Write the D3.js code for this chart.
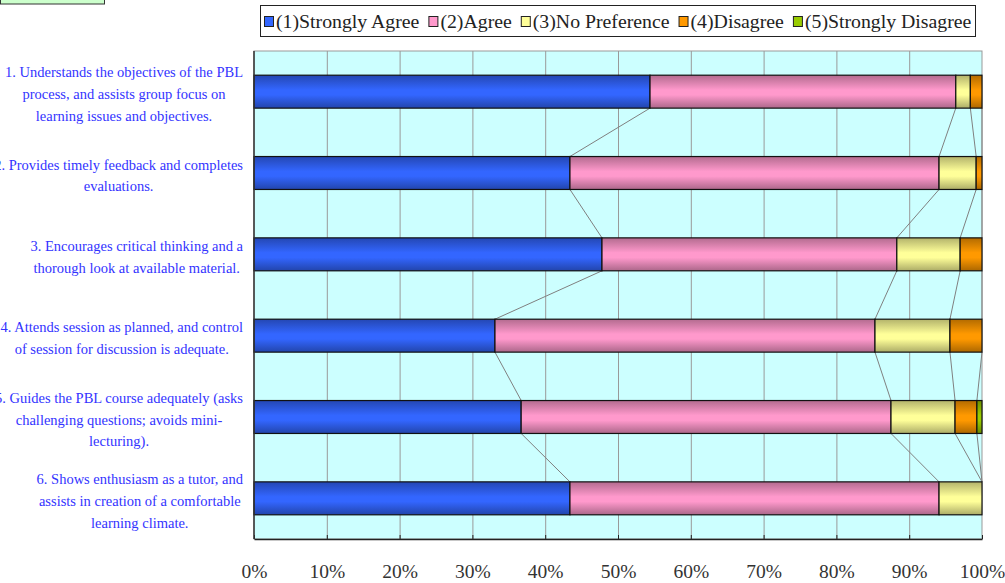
<!DOCTYPE html>
<html>
<head>
<meta charset="utf-8">
<script src="https://cdn.jsdelivr.net/npm/d3@7/dist/d3.min.js"></script>
<style>
  body { margin: 0; background: #fff; }
  svg { display: block; font-family: 'Liberation Serif', 'Times New Roman', serif; }
</style>
</head>
<body>
<div id="chart"></div>
<script>
// Survey items (each entry is the wrapped label lines)
var questions = [
  ['1. Understands the objectives of the PBL', 'process, and assists group focus on', 'learning issues and objectives.'],
  ['2. Provides timely feedback and completes', 'evaluations.'],
  ['3. Encourages critical thinking and a', 'thorough look at available material.'],
  ['4. Attends session as planned, and control', 'of session for discussion is adequate.'],
  ['5. Guides the PBL course adequately (asks', 'challenging questions; avoids mini-', 'lecturing).'],
  ['6. Shows enthusiasm as a tutor, and', 'assists in creation of a comfortable', 'learning climate.']
];
var seriesNames = ['(1)Strongly Agree', '(2)Agree', '(3)No Preference', '(4)Disagree', '(5)Strongly Disagree'];
var stronglyAgree    = [54.4, 43.4, 47.8, 33.1, 36.7, 43.4];
var agree            = [42.0, 50.7, 40.5, 52.2, 50.8, 50.7];
var noPreference     = [2.0, 5.1, 8.7, 10.3, 8.8, 5.9];
var disagree         = [1.6, 0.8, 3.0, 4.4, 3.0, 0.0];
var stronglyDisagree = [0.0, 0.0, 0.0, 0.0, 0.7, 0.0];
var xTicks = [0, 10, 20, 30, 40, 50, 60, 70, 80, 90, 100];

var colors = ['#3366ff', '#ff99cc', '#ffff99', '#ff9900', '#99cc00'];
var width = 1005;
var height = 583;
var plot = {left: 254, top: 51, right: 982, bottom: 539};

var series = [stronglyAgree, agree, noPreference, disagree, stronglyDisagree];

// build rows for d3.stack
var rows = questions.map(function (q, i) {
  var r = {index: i};
  seriesNames.forEach(function (name, s) { r[name] = series[s][i]; });
  return r;
});
var stacked = d3.stack().keys(seriesNames)(rows);

var x = d3.scaleLinear().domain([0, 100]).range([plot.left, plot.right]);
var y = d3.scaleBand()
          .domain(d3.range(questions.length))
          .range([plot.top, plot.bottom])
          .paddingInner(0.595)
          .paddingOuter(0.2975);

var svg = d3.select('#chart')
            .append('svg')
            .attr('width', width)
            .attr('height', height);

// gradients for the cylinder-ish bars
var defs = svg.append('defs');
colors.forEach(function (c, i) {
  var base = d3.rgb(c);
  var g = defs.append('linearGradient')
              .attr('id', 'grad' + i)
              .attr('x1', 0).attr('y1', 0).attr('x2', 0).attr('y2', 1);
  g.append('stop').attr('offset', '0%').attr('stop-color', base.darker(1.0));
  g.append('stop').attr('offset', '45%').attr('stop-color', base);
  g.append('stop').attr('offset', '60%').attr('stop-color', base);
  g.append('stop').attr('offset', '100%').attr('stop-color', base.darker(1.1));
});

// little green box top-left
svg.append('rect')
   .attr('x', 0.5).attr('y', -5)
   .attr('width', 104).attr('height', 9)
   .attr('fill', '#ccffcc')
   .attr('stroke', '#333');

// plot background
svg.append('rect')
   .attr('x', plot.left).attr('y', plot.top)
   .attr('width', plot.right - plot.left)
   .attr('height', plot.bottom - plot.top)
   .attr('fill', '#ccffff')
   .attr('stroke', '#999');

// vertical gridlines
svg.append('g')
   .selectAll('line')
   .data(xTicks.slice(1, -1))
   .enter()
   .append('line')
     .attr('x1', function (d) { return x(d) + 0.5; })
     .attr('x2', function (d) { return x(d) + 0.5; })
     .attr('y1', plot.top)
     .attr('y2', plot.bottom)
     .attr('stroke', '#999');

// series lines connecting stacked boundaries
var connectors = [];
stacked.slice(0, 4).forEach(function (layer) {
  for (var i = 0; i < questions.length - 1; i++) {
    connectors.push({x1: layer[i][1], y1: y(i) + y.bandwidth(), x2: layer[i + 1][1], y2: y(i + 1)});
  }
});
svg.append('g')
   .selectAll('line')
   .data(connectors)
   .enter()
   .append('line')
     .attr('x1', function (d) { return x(d.x1); })
     .attr('x2', function (d) { return x(d.x2); })
     .attr('y1', function (d) { return d.y1; })
     .attr('y2', function (d) { return d.y2; })
     .attr('stroke', '#808080')
     .attr('stroke-width', 1);

// bars
svg.append('g')
   .selectAll('g')
   .data(stacked)
   .enter()
   .append('g')
     .attr('fill', function (d, i) { return 'url(#grad' + i + ')'; })
   .selectAll('rect')
   .data(function (d) { return d.filter(function (p) { return p[1] - p[0] > 0; }); })
   .enter()
   .append('rect')
     .attr('x', function (d) { return x(d[0]); })
     .attr('y', function (d) { return y(d.data.index); })
     .attr('width', function (d) { return x(d[1]) - x(d[0]); })
     .attr('height', y.bandwidth())
     .attr('stroke', '#111')
     .attr('stroke-width', 1.2);

// axis lines (left and bottom, dark)
var xAxis = d3.axisBottom(x)
              .tickValues(xTicks)
              .tickSizeInner(-4)
              .tickSizeOuter(0)
              .tickFormat(function (d) { return d + '%'; });
var gx = svg.append('g')
            .attr('transform', 'translate(0,' + plot.bottom + ')')
            .call(xAxis);
gx.select('.domain').attr('stroke', '#222').attr('stroke-width', 1.5);
gx.selectAll('.tick line').attr('stroke', '#222');
gx.selectAll('.tick text')
  .attr('y', 39)
  .attr('dy', 0)
  .attr('font-size', 19.5)
  .attr('font-family', 'Liberation Serif')
  .attr('fill', '#333');

svg.append('line')
   .attr('x1', plot.left).attr('x2', plot.left)
   .attr('y1', plot.top).attr('y2', plot.bottom)
   .attr('stroke', '#333')
   .attr('stroke-width', 1.5);

// category labels: lines centered inside a right-aligned block
var lineH = 21.8;
var labelRight = 243;
questions.forEach(function (lines, i) {
  var g = svg.append('g');
  var texts = g.selectAll('text')
               .data(lines)
               .enter()
               .append('text')
                 .attr('font-size', 14.5)
                 .attr('fill', '#3333ff')
                 .attr('text-anchor', 'middle')
                 .text(function (d) { return d; });
  var maxW = 0;
  texts.each(function () { maxW = Math.max(maxW, this.getComputedTextLength()); });
  var cy = y(i) + y.bandwidth() / 2 + 2.5;
  var startY = cy - (lines.length - 1) * lineH / 2;
  texts.attr('x', labelRight - maxW / 2)
       .attr('y', function (d, j) { return startY + j * lineH + 5; });
});

// legend
var legend = svg.append('g');
legend.append('rect')
      .attr('x', 260.5).attr('y', 5.5)
      .attr('width', 715).attr('height', 31)
      .attr('fill', '#fff')
      .attr('stroke', '#222');
var lx = 264;
seriesNames.forEach(function (name, i) {
  legend.append('rect')
        .attr('x', lx + 0.5).attr('y', 16.5)
        .attr('width', 9).attr('height', 10)
        .attr('fill', colors[i])
        .attr('stroke', '#222');
  var t = legend.append('text')
                .attr('x', lx + 12)
                .attr('y', 28)
                .attr('font-size', 19.8)
                .attr('fill', '#222')
                .text(name);
  lx += 12 + t.node().getComputedTextLength() + 9;
});
</script>
</body>
</html>
